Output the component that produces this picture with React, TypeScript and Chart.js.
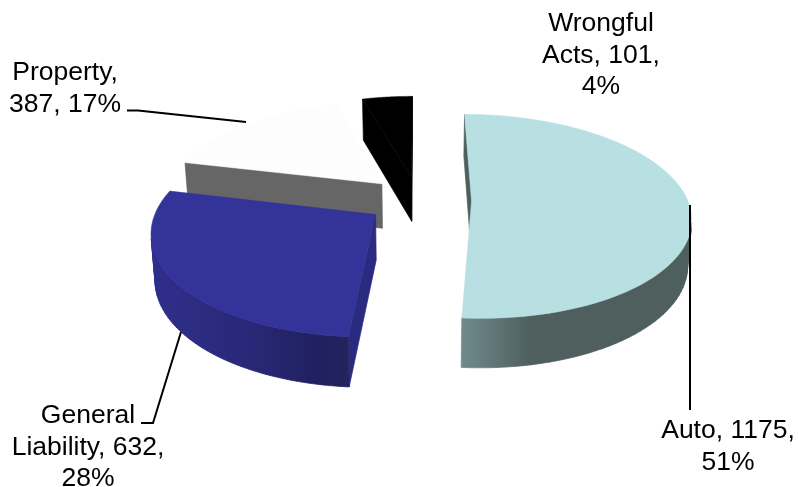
import { useEffect, useRef } from "react";
import { Chart, registerables, ArcElement } from "chart.js";

Chart.register(...registerables);

// Claim counts by line of coverage
const categories = ["Auto", "General Liability", "Property", "Wrongful Acts"];
const claims = [1175, 632, 387, 101];
const percents = [51, 28, 17, 4];

// Slice appearance
const faceColors = ["#B8DFE2", "#333399", "#FDFDFD", "#000000"];
const cutColors = ["#4F5F5E", "#2A2A80", "#666666", "#000000"];
const wallStops: [number, string][][] = [
  [[0, "#708B8D"], [0.3, "#4F5F5E"], [1, "#4F5F5E"]],
  [[0, "#2F2F8C"], [0.5, "#282878"], [0.85, "#20205E"], [1, "#23235F"]],
  [[0, "#666666"], [1, "#666666"]],
  [[0, "#000000"], [1, "#000000"]],
];
const sliceOffsets = [53, 52, 52, 52];

// Camera used to tilt the pie
const TILT = 0.46;
const PERSPECTIVE = 0.0007;
const THICKNESS_BASE = 20;
const THICKNESS_NEAR = 25;
const FLOOR_SHRINK = 0.985;
const STEPS = 90;
const SEAM_WIDTH = 0.7;

const FONT = '26.5px "Liberation Sans", Arial, sans-serif';
const LINE_HEIGHT = 31.5;

type Pt = { x: number; y: number };

function project(cx: number, cy: number, px: number, py: number, floor: boolean): Pt {
  const w = 1 / (1 - PERSPECTIVE * py);
  const sy = cy + TILT * py * w;
  if (!floor) return { x: cx + px * w, y: sy };
  return { x: cx + px * w * FLOOR_SHRINK, y: sy + THICKNESS_BASE + THICKNESS_NEAR * w };
}

function sliceGeometry(el: any) {
  const { x, y, startAngle, endAngle, outerRadius } = el.getProps(
    ["x", "y", "startAngle", "endAngle", "outerRadius"],
    true,
  );
  const mid = (startAngle + endAngle) / 2;
  const off = el.options.offset || 0;
  const ox = Math.cos(mid) * off;
  const oy = Math.sin(mid) * off;
  const rim = (floor: boolean): Pt[] => {
    const pts: Pt[] = [];
    for (let i = 0; i <= STEPS; i++) {
      const a = startAngle + ((endAngle - startAngle) * i) / STEPS;
      pts.push(project(x, y, ox + outerRadius * Math.cos(a), oy + outerRadius * Math.sin(a), floor));
    }
    return pts;
  };
  return {
    apexTop: project(x, y, ox, oy, false),
    apexFloor: project(x, y, ox, oy, true),
    rimTop: rim(false),
    rimFloor: rim(true),
    depth: oy,
  };
}

// Extrudes the edges P->Q that face the viewer into one path; edges turned away stay undrawn
function fillWalls(
  ctx: CanvasRenderingContext2D,
  edges: [Pt, Pt, Pt, Pt][],
  paint: string | CanvasGradient,
) {
  let any = false;
  ctx.beginPath();
  edges.forEach(([p, q, qf, pf]) => {
    const cross = (q.x - p.x) * (pf.y - p.y) - (q.y - p.y) * (pf.x - p.x);
    if (cross >= 0) return;
    any = true;
    ctx.moveTo(p.x, p.y);
    ctx.lineTo(q.x, q.y);
    ctx.lineTo(qf.x, qf.y);
    ctx.lineTo(pf.x, pf.y);
    ctx.closePath();
  });
  if (!any) return;
  ctx.fillStyle = paint;
  ctx.strokeStyle = paint;
  ctx.lineWidth = SEAM_WIDTH;
  ctx.lineJoin = "round";
  ctx.fill();
  ctx.stroke();
}

// Each arc paints its top face through the camera instead of as a flat wedge
const tiltedFaces = {
  id: "tiltedFaces",
  afterDatasetUpdate(chart: any) {
    chart.getDatasetMeta(0).data.forEach((el: any) => {
      el.draw = function (ctx: CanvasRenderingContext2D) {
        if (!(this instanceof ArcElement)) return;
        const g = sliceGeometry(this);
        const color = (this as any).options.backgroundColor;
        ctx.save();
        ctx.beginPath();
        [g.apexTop, ...g.rimTop].forEach((p, i) => (i ? ctx.lineTo(p.x, p.y) : ctx.moveTo(p.x, p.y)));
        ctx.closePath();
        ctx.fillStyle = color;
        ctx.strokeStyle = color;
        ctx.lineWidth = 0.5;
        ctx.lineJoin = "round";
        ctx.fill();
        ctx.stroke();
        ctx.restore();
      };
    });
  },
  // Side walls go underneath every top face, farthest slice first
  beforeDatasetsDraw(chart: any) {
    const ctx: CanvasRenderingContext2D = chart.ctx;
    const slices = chart
      .getDatasetMeta(0)
      .data.map((el: any, index: number) => ({ index, g: sliceGeometry(el) }))
      .sort((a: any, b: any) => a.g.depth - b.g.depth);
    ctx.save();
    slices.forEach(({ index, g }: any) => {
      fillWalls(
        ctx,
        [
          [g.apexTop, g.rimTop[0], g.rimFloor[0], g.apexFloor],
          [g.rimTop[STEPS], g.apexTop, g.apexFloor, g.rimFloor[STEPS]],
        ],
        cutColors[index],
      );
      const xs = [...g.rimTop, ...g.rimFloor].map((p: Pt) => p.x);
      const grad = ctx.createLinearGradient(Math.min(...xs), 0, Math.max(...xs), 0);
      wallStops[index].forEach(([s, c]) => grad.addColorStop(s, c));
      const edges: [Pt, Pt, Pt, Pt][] = [];
      for (let i = 0; i < STEPS; i++) {
        edges.push([g.rimTop[i], g.rimTop[i + 1], g.rimFloor[i + 1], g.rimFloor[i]]);
      }
      fillWalls(ctx, edges, grad);
    });
    ctx.restore();
  },
};

// Label text, one row per entry, with its centre and first baseline
const labelRows: string[][] = [
  ["Auto, " + claims[0] + ",", percents[0] + "%"],
  ["General", "Liability, " + claims[1] + ",", percents[1] + "%"],
  ["Property,", claims[2] + ", " + percents[2] + "%"],
  ["Wrongful", "Acts, " + claims[3] + ",", percents[3] + "%"],
];
const labelAnchors: [number, number][] = [
  [728, 438],
  [88, 423],
  [65, 80],
  [601, 31],
];
const leaders: [number, number][][] = [
  [[690, 205], [690, 410]],
  [[141, 423], [153, 423], [181, 332]],
  [[127, 110.5], [138, 110.5], [246, 122]],
];

const calloutLabels = {
  id: "calloutLabels",
  afterDatasetsDraw(chart: any) {
    const ctx: CanvasRenderingContext2D = chart.ctx;
    ctx.save();
    ctx.strokeStyle = "#000000";
    ctx.lineWidth = 2;
    leaders.forEach((path) => {
      ctx.beginPath();
      path.forEach(([x, y], i) => (i ? ctx.lineTo(x, y) : ctx.moveTo(x, y)));
      ctx.stroke();
    });
    ctx.font = FONT;
    ctx.fillStyle = "#000000";
    ctx.textAlign = "center";
    ctx.textBaseline = "alphabetic";
    labelRows.forEach((rows, i) => {
      const [x, y] = labelAnchors[i];
      rows.forEach((row, r) => ctx.fillText(row, x, y + r * LINE_HEIGHT));
    });
    ctx.restore();
  },
};

export default function App() {
  const canvasRef = useRef<HTMLCanvasElement>(null);

  useEffect(() => {
    document.body.style.margin = "0";
    const chart = new Chart(canvasRef.current as HTMLCanvasElement, {
      type: "pie",
      data: {
        labels: categories,
        datasets: [
          {
            data: claims,
            backgroundColor: faceColors,
            borderWidth: 0,
            offset: sliceOffsets,
            radius: 216,
          } as any,
        ],
      },
      options: {
        responsive: false,
        animation: false,
        events: [],
        layout: { padding: { left: 39, bottom: 87 } },
        plugins: { legend: { display: false }, tooltip: { enabled: false } },
      },
      plugins: [tiltedFaces, calloutLabels],
    });
    return () => chart.destroy();
  }, []);

  return (
    <canvas
      ref={canvasRef}
      width={798}
      height={487}
      style={{ display: "block", position: "absolute", left: 0, top: 0 }}
    />
  );
}
